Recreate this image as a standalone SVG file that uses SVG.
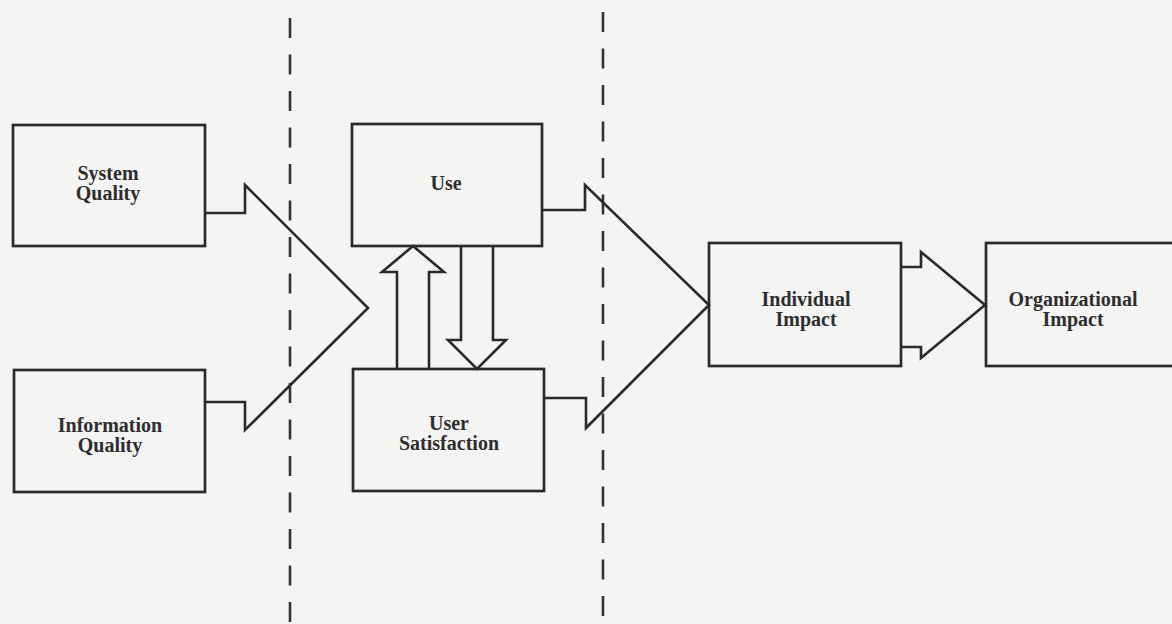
<svg xmlns="http://www.w3.org/2000/svg" width="1172" height="624" viewBox="0 0 1172 624">
  <style>
    .box { fill: none; stroke: #2a2a2a; stroke-width: 2.7; }
    .arrow { fill: none; stroke: #2a2a2a; stroke-width: 2.6; stroke-linejoin: miter; }
    .guide { stroke: #333333; stroke-width: 2.6; stroke-dasharray: 20 16.5; }
    .label { font-family: "Liberation Serif", "Times New Roman", serif; font-weight: bold; font-size: 20px; fill: #2e2e2e; text-anchor: middle; }
  </style>
  <rect x="0" y="0" width="1172" height="624" fill="#f4f4f3"/>
  <g id="guides">
    <line class="guide" x1="290" y1="18" x2="290" y2="624"/>
    <line class="guide" x1="603" y1="12" x2="603" y2="624"/>
  </g>
  <g id="connectors">
    <polyline class="arrow" points="205,213 245,213 245,185 368,308 245,430 245,402 205,402"/>
    <polyline class="arrow" points="542,210 585,210 585,185 709,305 586,428 586,398 544,398"/>
    <polyline class="arrow" points="901,267 921,267 921,252 985,305 921,358 921,347 901,347"/>
    <polyline class="arrow" points="397,369 397,272 382,272 413,246 444,272 429,272 429,369"/>
    <polyline class="arrow" points="461,246 461,340 448,340 477,369 506,340 493,340 493,246"/>
  </g>
  <g id="system-quality">
    <rect class="box" x="13" y="125" width="192" height="121"/>
    <text class="label" x="108" y="180">System</text>
    <text class="label" x="108" y="200">Quality</text>
  </g>
  <g id="information-quality">
    <rect class="box" x="14" y="370" width="191" height="122"/>
    <text class="label" x="110" y="432">Information</text>
    <text class="label" x="110" y="452">Quality</text>
  </g>
  <g id="use">
    <rect class="box" x="352" y="124" width="190" height="122"/>
    <text class="label" x="446" y="190">Use</text>
  </g>
  <g id="user-satisfaction">
    <rect class="box" x="353" y="369" width="191" height="122"/>
    <text class="label" x="449" y="430">User</text>
    <text class="label" x="449" y="450">Satisfaction</text>
  </g>
  <g id="individual-impact">
    <rect class="box" x="709" y="243" width="192" height="123"/>
    <text class="label" x="806" y="306">Individual</text>
    <text class="label" x="806" y="326">Impact</text>
  </g>
  <g id="organizational-impact">
    <rect class="box" x="986" y="243" width="200" height="123"/>
    <text class="label" x="1073" y="306">Organizational</text>
    <text class="label" x="1073" y="326">Impact</text>
  </g>
</svg>
